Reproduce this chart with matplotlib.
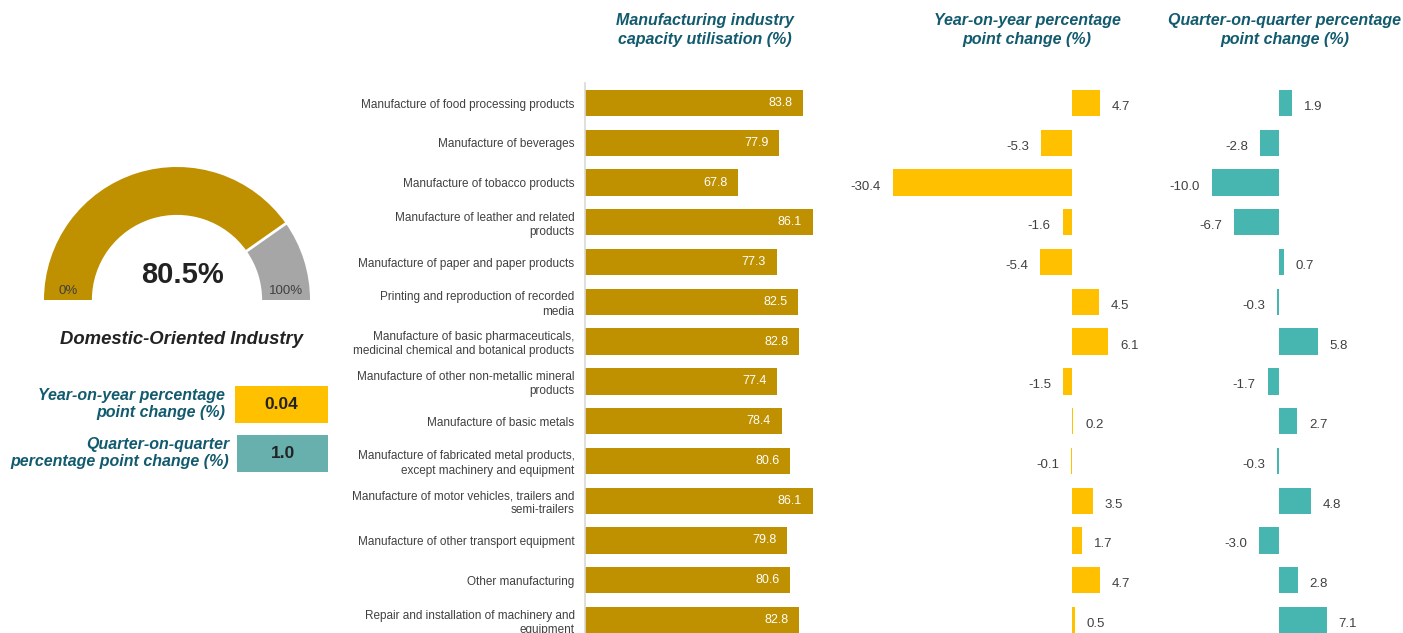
import matplotlib.pyplot as plt
from matplotlib.patches import Wedge, Rectangle
import numpy as np

plt.rcParams['font.family'] = ['Liberation Sans', 'DejaVu Sans']

# 数据
categories = [
    'Manufacture of food processing products',
    'Manufacture of beverages',
    'Manufacture of tobacco products',
    'Manufacture of leather and related\nproducts',
    'Manufacture of paper and paper products',
    'Printing and reproduction of recorded\nmedia',
    'Manufacture of basic pharmaceuticals,\nmedicinal chemical and botanical products',
    'Manufacture of other non-metallic mineral\nproducts',
    'Manufacture of basic metals',
    'Manufacture of fabricated metal products,\nexcept machinery and equipment',
    'Manufacture of motor vehicles, trailers and\nsemi-trailers',
    'Manufacture of other transport equipment',
    'Other manufacturing',
    'Repair and installation of machinery and\nequipment',
]
utilisation = [83.8, 77.9, 67.8, 86.1, 77.3, 82.5, 82.8, 77.4, 78.4, 80.6, 86.1, 79.8, 80.6, 82.8]
yoy_change = [4.7, -5.3, -30.4, -1.6, -5.4, 4.5, 6.1, -1.5, 0.2, -0.1, 3.5, 1.7, 4.7, 0.5]
qoq_change = [1.9, -2.8, -10.0, -6.7, 0.7, -0.3, 5.8, -1.7, 2.7, -0.3, 4.8, -3.0, 2.8, 7.1]

gauge_value = 80.5
gauge_title = 'Domestic-Oriented Industry'
overall_yoy = '0.04'
overall_qoq = '1.0'

# 颜色
gold = '#BF9000'
yellow = '#FFC000'
teal = '#47B5B0'
box_teal = '#68B0AE'
grey = '#A6A6A6'
head_col = '#125A6E'
txt_col = '#404040'

W, H = 1403, 633
fig = plt.figure(figsize=(W / 100, H / 100), dpi=100)


def px_axes(left, top, width, height):
    return fig.add_axes([left / W, 1 - (top + height) / H, width / W, height / H])


def fx(x):
    return x / W


def fy(y):
    return 1 - y / H


n = len(categories)
y_pos = np.arange(n)
row_h = 39.77
ax_top = 103 - row_h / 2
ax_h = row_h * n

# 主柱状图
ax = px_axes(585, ax_top, 65 * 4.06, ax_h)
ax.barh(y_pos, utilisation, height=0.66, color=gold, left=0)
ax.set_xlim(30, 95)
ax.set_ylim(n - 0.5, -0.5)
ax.set_yticks(y_pos)
ax.set_yticklabels(categories, fontsize=8.5, color=txt_col, linespacing=1.25)
ax.tick_params(axis='y', length=0, pad=7.5)
ax.set_xticks([])
for s in ['top', 'right', 'bottom']:
    ax.spines[s].set_visible(False)
ax.spines['left'].set_color('#D9D9D9')
ax.spines['left'].set_linewidth(1.2)
for i, v in enumerate(utilisation):
    ax.annotate(f'{v:.1f}', (v, i), xytext=(-11, 0), textcoords='offset pixels',
                ha='right', va='center', color='white', fontsize=9)


def change_panel(zero_px, scale, lo, hi, values, color):
    a = px_axes(zero_px + lo * scale, ax_top, (hi - lo) * scale, ax_h)
    a.barh(y_pos, values, height=0.66, color=color)
    a.set_xlim(lo, hi)
    a.set_ylim(n - 0.5, -0.5)
    a.axis('off')
    for i, v in enumerate(values):
        off = 12 if v >= 0 else -12
        a.annotate(f'{v:.1f}', (v, i), xytext=(off, -4), textcoords='offset pixels',
                   ha='left' if v >= 0 else 'right', va='center',
                   color=txt_col, fontsize=9.5)
    return a


change_panel(1072, 5.89, -33, 9, yoy_change, yellow)
change_panel(1279, 6.7, -12, 10, qoq_change, teal)

# 标题
head_kw = dict(ha='center', va='center', color=head_col, fontsize=11.5,
               fontweight='bold', fontstyle='italic', linespacing=1.35)
fig.text(fx(705), fy(30), 'Manufacturing industry\ncapacity utilisation (%)', **head_kw)
fig.text(fx(1027), fy(30), 'Year-on-year percentage\npoint change (%)', **head_kw)
fig.text(fx(1285), fy(30), 'Quarter-on-quarter percentage\npoint change (%)', **head_kw)

# 仪表盘
R = 133
axg = px_axes(177 - 143.5, 300 - 143, 287, 153)
axg.set_xlim(-143.5 / R, 143.5 / R)
axg.set_ylim(-10 / R, 143 / R)
axg.axis('off')
split = 180 * (1 - gauge_value / 100)
axg.add_patch(Wedge((0, 0), 1, split, 180, width=0.36, facecolor=gold,
                    edgecolor='none'))
axg.add_patch(Wedge((0, 0), 1, 0, split, width=0.36, facecolor=grey,
                    edgecolor='none'))
ang = np.deg2rad(split)
axg.plot([0.64 * np.cos(ang), np.cos(ang)], [0.64 * np.sin(ang), np.sin(ang)],
         color='white', lw=2)
axg.text(0.04, 0.19, f'{gauge_value:.1f}%', ha='center', va='center',
         fontsize=21, fontweight='bold', color='#222222')
axg.text(-0.82, 0.07, '0%', ha='center', va='center', fontsize=9.5, color=txt_col)
axg.text(0.82, 0.07, '100%', ha='center', va='center', fontsize=9.5, color=txt_col)

fig.text(fx(181), fy(339), gauge_title, ha='center', va='center', fontsize=13.3,
         fontweight='bold', fontstyle='italic', color='#222222')

# 汇总框
lab_kw = dict(ha='right', va='center', color=head_col, fontsize=11.5,
              fontweight='bold', fontstyle='italic', linespacing=1.2)
fig.text(fx(225), fy(404), 'Year-on-year percentage\npoint change (%)', **lab_kw)
fig.text(fx(229), fy(453), 'Quarter-on-quarter\npercentage point change (%)', **lab_kw)

for (x0, y0, x1, y1), col, val in [((235, 386, 328, 423), yellow, overall_yoy),
                                   ((237, 435, 328, 472), box_teal, overall_qoq)]:
    fig.patches.append(Rectangle((fx(x0), fy(y1)), fx(x1 - x0), (y1 - y0) / H,
                                 transform=fig.transFigure, facecolor=col, edgecolor='none'))
    fig.text(fx((x0 + x1) / 2), fy((y0 + y1) / 2), val, ha='center', va='center',
             fontsize=12.5, fontweight='bold', color='#222222')

plt.savefig('out.png', dpi=100)
